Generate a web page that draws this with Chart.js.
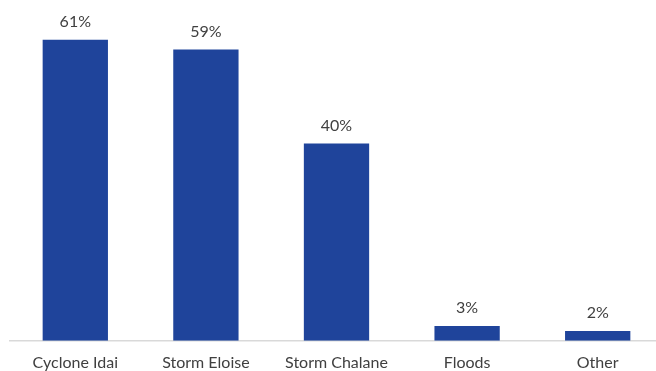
<!DOCTYPE html>
<html>
<head>
<meta charset="utf-8">
<script src="https://cdn.jsdelivr.net/npm/chart.js@4.4.0/dist/chart.umd.min.js"></script>
<style>
  html, body { margin: 0; padding: 0; background: #fff; overflow: hidden; }
  #wrap { width: 663px; height: 371px; }
</style>
</head>
<body>
<div id="wrap"><canvas id="causeChart"></canvas></div>
<script>
const categories = ['Cyclone Idai', 'Storm Eloise', 'Storm Chalane', 'Floods', 'Other'];
const shares = [61, 59, 40, 3, 2];

// writes the percentage above each bar
const valueLabels = {
    id: 'valueLabels',
    afterDatasetsDraw(chart) {
        const ctx = chart.ctx;
        const meta = chart.getDatasetMeta(0);
        ctx.save();
        ctx.font = '16px Lato';
        ctx.fillStyle = '#404040';
        ctx.textAlign = 'center';
        ctx.textBaseline = 'bottom';
        meta.data.forEach(function(bar, i) {
            ctx.fillText(shares[i] + '%', bar.x, bar.y - 10);
        });
        ctx.restore();
    }
};

new Chart(document.getElementById('causeChart').getContext('2d'), {
    type: 'bar',
    data: {
        labels: categories,
        datasets: [{
            data: shares,
            backgroundColor: '#1F449B',
            categoryPercentage: 1,
            barPercentage: 0.5
        }]
    },
    options: {
        responsive: true,
        maintainAspectRatio: false,
        animation: false,
        layout: { padding: { left: 10, right: 0, top: 20, bottom: -13 } },
        plugins: {
            legend: { display: false },
            tooltip: { enabled: false }
        },
        scales: {
            y: { display: false, min: 0, max: 65 },
            x: {
                grid: { display: false, drawTicks: false },
                border: { color: '#D9D9D9', width: 1.5 },
                ticks: { color: '#404040', font: { family: 'Lato', size: 16 }, padding: 12 }
            }
        }
    },
    plugins: [valueLabels]
});
</script>
</body>
</html>
